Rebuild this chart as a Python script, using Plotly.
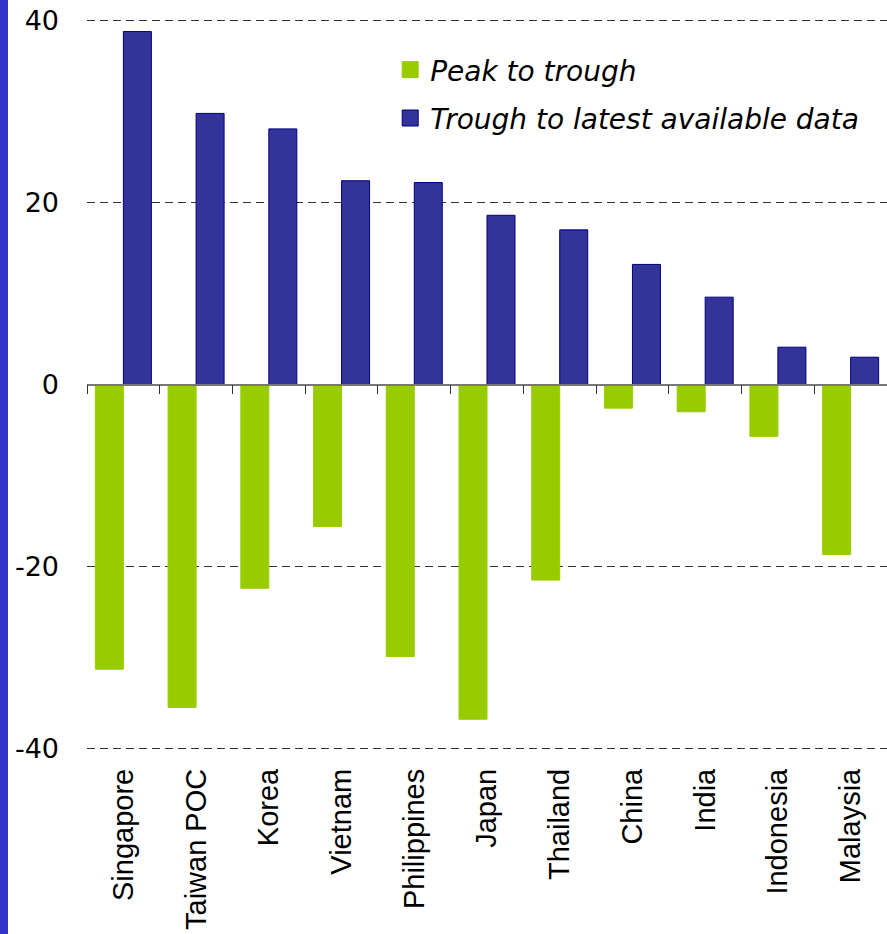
import plotly.graph_objects as go

countries = ['Singapore', 'Taiwan POC', 'Korea', 'Vietnam', 'Philippines', 'Japan',
             'Thailand', 'China', 'India', 'Indonesia', 'Malaysia']
peak_to_trough = [-31.3, -35.5, -22.4, -15.6, -29.9, -36.8, -21.5, -2.6, -3.0, -5.7, -18.7]
trough_to_latest = [38.8, 29.8, 28.1, 22.4, 22.2, 18.6, 17.0, 13.2, 9.6, 4.1, 3.0]
y_ticks = [-40, -20, 0, 20, 40]
y_tick_labels = ['-40', '-20', '0', '20', '40']

green = '#99CC00'
blue = '#333399'

fig = go.Figure()
fig.add_trace(go.Bar(name='Peak to trough', x=countries, y=peak_to_trough, showlegend=False,
                     marker=dict(color=green, line=dict(color='#99CC00', width=1))))
fig.add_trace(go.Bar(name='Trough to latest available data', x=countries, y=trough_to_latest,
                     showlegend=False,
                     marker=dict(color=blue, line=dict(color='#000080', width=1))))
# legend entries with bigger square swatches
fig.add_trace(go.Scatter(name='Peak to trough', x=[None], y=[None], mode='markers',
                         legendgroup='a',
                         marker=dict(symbol='square', size=20, color=green,
                                     line=dict(color='#99CC00', width=1))))
fig.add_trace(go.Scatter(name='Trough to latest available data', x=[None], y=[None],
                         mode='markers', legendgroup='b',
                         marker=dict(symbol='square', size=20, color=blue,
                                     line=dict(color='#000080', width=1))))
# dummy trace so the zero-line axis has its categories
fig.add_trace(go.Bar(x=countries, y=[0] * len(countries), xaxis='x2',
                     showlegend=False, hoverinfo='skip', marker_color='rgba(0,0,0,0)'))

fig.update_layout(
    width=887, height=934,
    margin=dict(l=87, r=0, t=17, b=182),
    paper_bgcolor='white', plot_bgcolor='white',
    barmode='group', bargap=0.23, bargroupgap=0,
    showlegend=True,
    legend=dict(x=0.379, y=0.962, xanchor='left', yanchor='top',
                font=dict(family='DejaVu Sans, Verdana', size=28, style='italic', color='black'),
                bgcolor='rgba(0,0,0,0)', tracegroupgap=9, itemsizing='trace'),
    xaxis=dict(type='category', categoryorder='array', categoryarray=countries,
               showline=False, ticks='', tickangle=-90, showgrid=False, automargin=False,
               ticklabelstandoff=10,
               tickfont=dict(family='Liberation Sans, Arial', size=29, color='black')),
    xaxis2=dict(type='category', categoryorder='array', categoryarray=countries,
                overlaying='x', matches='x', anchor='free', position=0.5, automargin=False,
                showline=True, linecolor='#777777', linewidth=1.5,
                ticks='outside', tickson='boundaries', ticklen=9, tickcolor='#333333',
                showticklabels=False, showgrid=False),
    yaxis=dict(range=[-40.4, 40.4], tickvals=y_ticks, ticktext=y_tick_labels, showline=False,
               showgrid=True, griddash='8px,5px', gridcolor='#333333', gridwidth=1,
               zeroline=False, ticks='', ticklabelstandoff=27, automargin=False,
               tickfont=dict(family='DejaVu Sans, Verdana', size=27, color='black')),
    shapes=[dict(type='rect', xref='paper', yref='paper',
                 x0=-87 / 800, x1=-79 / 800, y0=-0.3, y1=1.1,
                 fillcolor='#3333CC', line=dict(width=0), layer='below')],
)

# the page body has an 8px default margin; drop it so the figure sits at the corner
fig.write_html("out.html", config={'displayModeBar': False},
               post_script="document.body.style.margin='0px';")
